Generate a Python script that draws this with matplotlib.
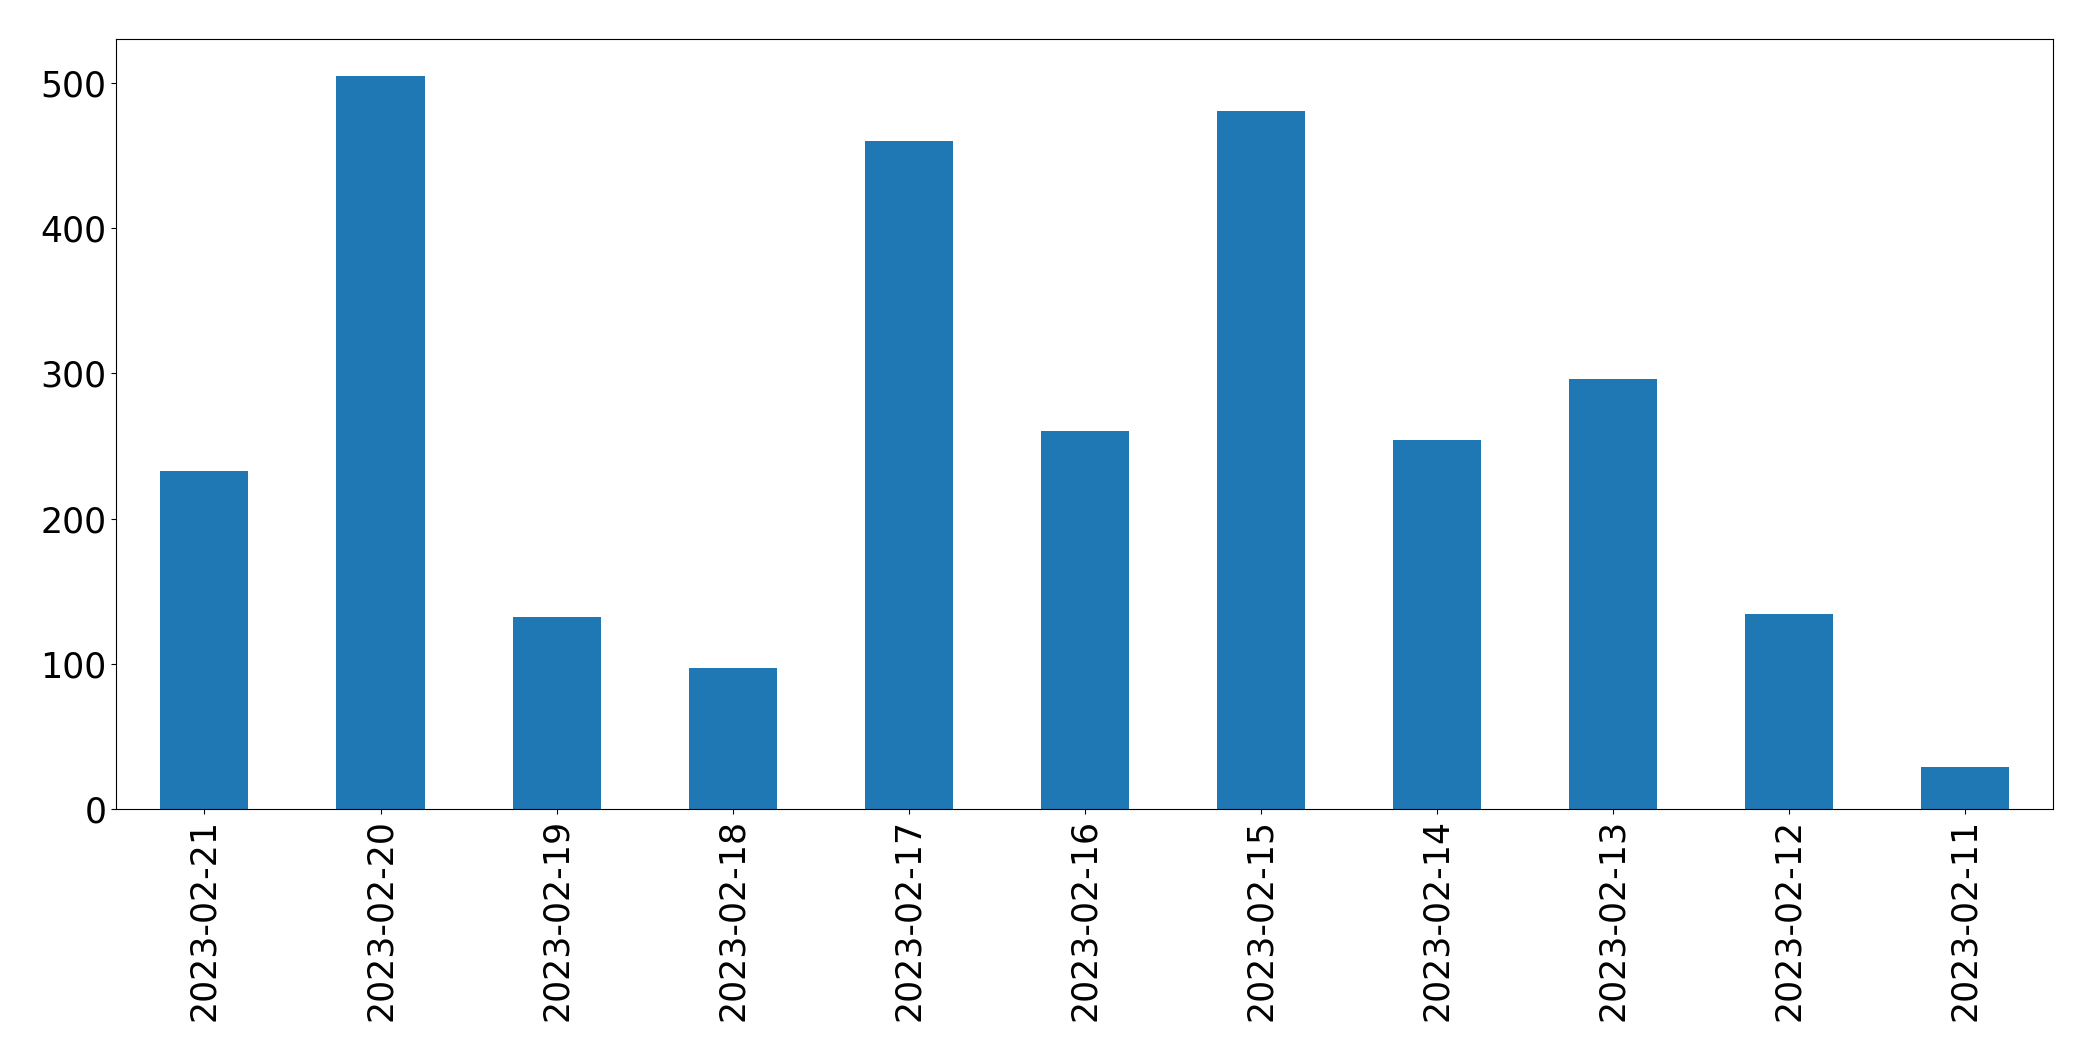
import matplotlib
matplotlib.use("Agg")
import matplotlib.pyplot as plt

# データ (読み取り値)
dates = ["2023-02-21", "2023-02-20", "2023-02-19", "2023-02-18", "2023-02-17",
         "2023-02-16", "2023-02-15", "2023-02-14", "2023-02-13", "2023-02-12",
         "2023-02-11"]
counts = [233, 505, 132, 97, 460, 260, 481, 254, 296, 134, 29]

fig = plt.figure(figsize=(20.93, 10.61), dpi=100)
ax = fig.add_axes([0.0556, 0.2375, 0.9255, 0.7257])

pos = range(len(dates))
ax.bar(pos, counts, width=0.5, color="#1f77b4")
ax.set_xticks(list(pos))
ax.set_xticklabels(dates, rotation=90)
ax.set_xlim(-0.5, len(dates) - 0.5)
ax.tick_params(labelsize=25)

plt.savefig("out.png", dpi=100)
